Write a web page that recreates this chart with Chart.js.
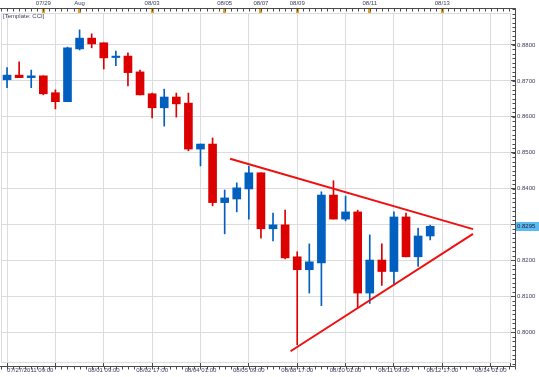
<!DOCTYPE html>
<html>
<head>
<meta charset="utf-8">
<script src="https://cdn.jsdelivr.net/npm/chart.js@4.4.0/dist/chart.umd.min.js"></script>
<style>
  body { margin: 0; background: #fff; }
  #wrap { position: relative; width: 539px; height: 377px; }
  #tpl { position: absolute; left: 3px; top: 13px; font: 6px "Liberation Sans", Arial, sans-serif; color: #3c3c5c; }
</style>
</head>
<body>
<div id="wrap">
  <canvas id="priceChart" width="539" height="377"></canvas>
  <div id="tpl">[Template: CCI]</div>
</div>
<script>
// 8 hour candles
const opens  = [0.8703, 0.8716, 0.8709, 0.8714, 0.8667, 0.8642, 0.8789, 0.8819, 0.8806, 0.8765, 0.8769, 0.8725,
                0.8664, 0.8625, 0.8655, 0.8638, 0.8510, 0.8524, 0.8361, 0.8371, 0.8399, 0.8444, 0.8288, 0.8299,
                0.8210, 0.8174, 0.8193, 0.8382, 0.8315, 0.8335, 0.8109, 0.8201, 0.8169, 0.8321, 0.8210, 0.8268];
const highs  = [0.8737, 0.8753, 0.8730, 0.8714, 0.8675, 0.8794, 0.8842, 0.8831, 0.8806, 0.8783, 0.8778, 0.8730,
                0.8666, 0.8677, 0.8666, 0.8666, 0.8524, 0.8541, 0.8396, 0.8416, 0.8463, 0.8444, 0.8332, 0.8340,
                0.8224, 0.8246, 0.8391, 0.8422, 0.8379, 0.8340, 0.8271, 0.8246, 0.8335, 0.8332, 0.8290, 0.8298];
const lows   = [0.8681, 0.8709, 0.8681, 0.8661, 0.8622, 0.8642, 0.8786, 0.8792, 0.8733, 0.8742, 0.8686, 0.8661,
                0.8597, 0.8574, 0.8599, 0.8505, 0.8463, 0.8352, 0.8274, 0.8335, 0.8315, 0.8262, 0.8254, 0.8204,
                0.7965, 0.8109, 0.8074, 0.8315, 0.8310, 0.8068, 0.8080, 0.8130, 0.8132, 0.8210, 0.8183, 0.8257];
const closes = [0.8716, 0.8709, 0.8714, 0.8664, 0.8642, 0.8792, 0.8819, 0.8803, 0.8764, 0.8769, 0.8723, 0.8661,
                0.8625, 0.8655, 0.8636, 0.8510, 0.8524, 0.8361, 0.8374, 0.8402, 0.8444, 0.8288, 0.8299, 0.8207,
                0.8174, 0.8196, 0.8382, 0.8315, 0.8335, 0.8109, 0.8201, 0.8169, 0.8321, 0.8210, 0.8268, 0.8295];

// triangle drawn on the chart (candle index, price)
const upperLineX = [18.45, 38.54];
const upperLineY = [0.8483, 0.8287];
const lowerLineX = [23.45, 38.54];
const lowerLineY = [0.7947, 0.8274];

// axis ticks
const priceTicks = [0.80, 0.81, 0.82, 0.83, 0.84, 0.85, 0.86, 0.87, 0.88];
const bottomTickPos = [0, 4, 8, 12, 16, 20, 24, 28, 32, 36, 40];
const bottomTickLabels = ['07/27/2011 09:00', '', '08/01 09:00', '08/02 17:00', '08/04 01:00', '08/05 09:00',
                          '08/08 17:00', '08/10 01:00', '08/11 09:00', '08/12 17:00', '08/14 01:00'];
const topTickPos = [3, 6, 12, 18, 21, 24, 30, 36];
const topTickLabels = ['07/29', 'Aug', '08/03', '08/05', '08/07', '08/09', '08/11', '08/13'];

const upColor = '#005fbf';
const downColor = '#dc0000';
const gridColor = '#dcdcdc';
const axisColor = '#4a4a4a';
const textColor = '#3c3c5c';
const xMin = -0.5, xMax = 41.6;
const yMin = 0.7917, yMax = 0.8889;

Chart.defaults.font.family = '"Liberation Sans", Arial, sans-serif';
Chart.defaults.font.size = 6;

const idx = opens.map((_, i) => i);
const candleColors = idx.map(i => closes[i] >= opens[i] ? upColor : downColor);

// dark axis lines, minor ticks and the last price box
const axisChrome = {
    id: 'axisChrome',
    afterDraw(chart) {
        const ctx = chart.ctx;
        const a = chart.chartArea;
        const xs = chart.scales.x, ys = chart.scales.y;
        const rx = a.right + 5.5, ty = a.top - 4.5, by = a.bottom + 4.5;
        ctx.save();
        ctx.lineWidth = 1;
        ctx.strokeStyle = gridColor;
        ctx.beginPath();
        ctx.moveTo(a.left + 0.5, a.top);
        ctx.lineTo(a.left + 0.5, a.bottom);
        ctx.stroke();

        ctx.strokeStyle = axisColor;
        ctx.beginPath();
        ctx.moveTo(0, ty); ctx.lineTo(rx, ty);
        ctx.moveTo(rx, ty); ctx.lineTo(rx, by);
        ctx.moveTo(0, by); ctx.lineTo(rx, by);
        for (let k = 0; k <= 80; k++) {
            const y = Math.round(ys.getPixelForValue(0.79 + k * 0.00125)) + 0.5;
            if (y < ty || y > by) continue;
            ctx.moveTo(rx - 3, y); ctx.lineTo(rx, y);
        }
        for (let k = -1; k <= 84; k++) {
            const x = Math.round(xs.getPixelForValue(k / 2)) + 0.5;
            if (x > rx) continue;
            ctx.moveTo(x, ty); ctx.lineTo(x, ty + 3);
            ctx.moveTo(x, by); ctx.lineTo(x, by + 3);
        }
        ctx.stroke();

        const last = closes[closes.length - 1];
        const yp = Math.round(ys.getPixelForValue(last));
        ctx.fillStyle = '#5bbcf0';
        ctx.fillRect(a.right + 6, yp - 4, chart.width - a.right - 6, 9);
        ctx.fillStyle = '#1a1a3a';
        ctx.font = '6px "Liberation Sans", Arial, sans-serif';
        ctx.textBaseline = 'middle';
        ctx.fillText(last.toFixed(4), a.right + 7, yp + 0.5);
        ctx.restore();
    }
};

new Chart(document.getElementById('priceChart'), {
    type: 'bar',
    data: {
        datasets: [{
            label: 'body',
            data: idx.map(i => ({ x: i, y: [opens[i], closes[i]] })),
            backgroundColor: candleColors,
            barThickness: 8,
            maxBarThickness: 8,
            grouped: false,
            order: 1
        }, {
            label: 'wick',
            data: idx.map(i => ({ x: i, y: [lows[i], highs[i]] })),
            backgroundColor: candleColors,
            barThickness: 1,
            maxBarThickness: 1,
            grouped: false,
            order: 2
        }, {
            type: 'line',
            label: 'upper',
            data: upperLineX.map((x, i) => ({ x: x, y: upperLineY[i] })),
            borderColor: '#f01010',
            borderWidth: 2,
            pointRadius: 0,
            order: 0
        }, {
            type: 'line',
            label: 'lower',
            data: lowerLineX.map((x, i) => ({ x: x, y: lowerLineY[i] })),
            borderColor: '#f01010',
            borderWidth: 2,
            pointRadius: 0,
            order: 0
        }]
    },
    options: {
        responsive: false,
        animation: false,
        layout: { padding: { left: 1, right: 0, top: 0, bottom: 0 } },
        plugins: {
            legend: { display: false },
            tooltip: { enabled: false }
        },
        scales: {
            x: {
                type: 'linear',
                position: 'bottom',
                min: xMin,
                max: xMax,
                offset: false,
                afterBuildTicks: function(s) {
                    s.ticks = bottomTickPos.map(v => ({ value: v })).concat([{ value: xMax }]);
                },
                afterFit: function(s) { s.height = 15; },
                grid: { color: gridColor, offset: false, tickLength: 4, tickColor: axisColor },
                border: { color: gridColor },
                ticks: {
                    autoSkip: false,
                    maxRotation: 0,
                    align: 'inner',
                    padding: 1,
                    color: textColor,
                    callback: function(value, i) { return bottomTickLabels[i] || ''; }
                }
            },
            x2: {
                type: 'linear',
                position: 'top',
                min: xMin,
                max: xMax,
                offset: false,
                afterBuildTicks: function(s) {
                    s.ticks = topTickPos.map(v => ({ value: v }));
                },
                afterFit: function(s) { s.height = 13; },
                grid: { drawOnChartArea: false, offset: false, tickLength: 5, tickColor: '#f0a020', tickWidth: 3 },
                border: { color: gridColor },
                ticks: {
                    autoSkip: false,
                    maxRotation: 0,
                    padding: 1,
                    color: textColor,
                    callback: function(value, i) { return topTickLabels[i]; }
                }
            },
            y: {
                type: 'linear',
                position: 'right',
                min: yMin,
                max: yMax,
                beginAtZero: false,
                afterBuildTicks: function(s) {
                    s.ticks = priceTicks.map(v => ({ value: v }));
                },
                afterFit: function(s) { s.width = 29; },
                grid: { color: gridColor, tickLength: 5, tickColor: axisColor },
                border: { color: gridColor },
                ticks: {
                    autoSkip: false,
                    padding: 2,
                    color: textColor,
                    callback: function(value) { return value.toFixed(4); }
                }
            }
        }
    },
    plugins: [axisChrome]
});
</script>
</body>
</html>
